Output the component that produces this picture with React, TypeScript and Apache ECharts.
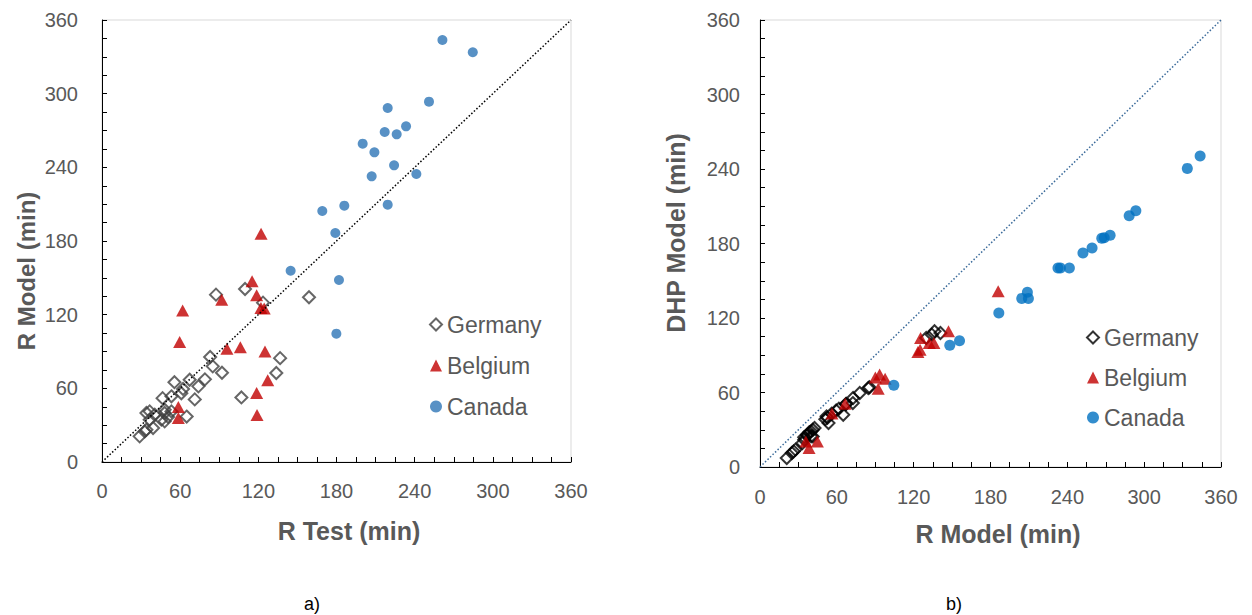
import React, { useEffect, useRef } from "react";
import * as echarts from "echarts";

// ---- Data (minutes) ----
const axisTicks = [0, 60, 120, 180, 240, 300, 360];

const germanyTest = [87.5, 109.8, 123.6, 158.9, 136.7, 83.0, 85.0, 92.1, 133.8, 107.0, 79.0, 74.0, 67.3, 55.6, 62.2, 71.2, 60.9, 53.3, 46.5, 65.0, 53.3, 48.1, 48.1, 50.7, 36.6, 34.1, 40.5, 45.6, 36.6, 48.1, 39.2, 34.1, 28.9, 32.8];
const germanyModel = [136.3, 140.9, 129.8, 134.2, 84.6, 85.5, 77.9, 72.7, 72.5, 52.6, 67.3, 61.6, 67.0, 65.0, 59.5, 51.0, 56.0, 53.5, 52.0, 37.0, 41.2, 42.6, 39.9, 36.7, 41.2, 39.9, 38.5, 34.5, 34.5, 33.1, 27.7, 26.3, 20.9, 24.9];
const germanyDHP = [109.3, 107.9, 103.9, 106.6, 63.6, 64.2, 59.6, 55.6, 51.5, 39.5, 51.0, 47.0, 50.5, 42.1, 45.5, 38.5, 43.0, 35.4, 40.8, 26.0, 30.0, 31.4, 28.7, 25.5, 24.6, 24.7, 28.0, 22.0, 24.0, 19.3, 14.0, 12.6, 7.2, 11.3];

const belgiumTest = [122.1, 115.2, 118.7, 91.9, 122.0, 124.5, 61.9, 59.6, 106.2, 95.9, 125.1, 127.2, 118.7, 58.6, 119.0, 58.6];
const belgiumModel = [186.0, 147.2, 135.8, 132.2, 125.4, 125.0, 123.3, 97.7, 93.4, 92.3, 90.1, 66.5, 56.2, 44.8, 38.3, 35.8];
const belgiumDHP = [141.5, 109.3, 99.9, 99.9, 103.9, 94.5, 92.6, 71.1, 74.4, 63.1, 72.0, 51.0, 43.0, 20.6, 15.3, 20.6];

const canadaTest = [261.3, 284.6, 251.0, 219.3, 233.4, 217.0, 226.2, 200.1, 209.1, 224.2, 241.3, 207.0, 219.3, 186.0, 169.1, 179.1, 144.8, 181.9, 179.9];
const canadaModel = [343.7, 333.7, 293.5, 288.3, 273.4, 268.8, 266.9, 259.3, 252.2, 241.6, 234.6, 232.7, 209.6, 208.8, 204.4, 186.5, 155.8, 148.2, 104.5];
const canadaDHP = [250.5, 240.5, 206.4, 202.4, 186.6, 184.7, 184.2, 176.4, 172.3, 160.3, 160.3, 160.3, 135.8, 140.7, 135.8, 124.0, 101.7, 98.0, 65.8];

const diagonal = [
  [0, 0],
  [360, 360],
];

const FONT = "'Liberation Sans', Arial, sans-serif";
const GRAY = "#595959";

function pairs(xs: number[], ys: number[]) {
  return xs.map((x, i) => [x, ys[i]]);
}

function makeAxis(gridIndex: number, margin: number) {
  return {
    type: "value",
    gridIndex,
    min: axisTicks[0],
    max: axisTicks[axisTicks.length - 1],
    interval: 60,
    axisLine: { show: true, lineStyle: { color: "#000", width: 1 } },
    axisTick: { show: true, inside: true, length: 5, lineStyle: { color: "#000", width: 1 } },
    minorTick: { show: true, splitNumber: 4, length: 5, lineStyle: { color: "#000", width: 1 } },
    splitLine: { show: false },
    axisLabel: { fontSize: 20, color: GRAY, fontFamily: FONT, margin, showMaxLabel: true, showMinLabel: true },
  };
}

function legendFor(left: number, top: number, itemGap: number, diamondColor: string, circleColor: string) {
  return {
    orient: "vertical",
    left,
    top,
    padding: 0,
    itemGap,
    itemWidth: 12,
    itemHeight: 12,
    selectedMode: false,
    textStyle: { fontSize: 23, color: GRAY, fontFamily: FONT, lineHeight: 23 },
    data: [
      { name: "Germany", icon: "diamond", itemStyle: { color: "rgba(255,255,255,0)", borderColor: diamondColor, borderWidth: 2 } },
      { name: "Belgium", icon: "triangle", itemStyle: { color: "#c00000", borderWidth: 0 } },
      { name: "Canada", icon: "circle", itemStyle: { color: circleColor, borderWidth: 0 } },
    ],
  };
}

export default function App() {
  const ref = useRef<HTMLDivElement>(null);

  useEffect(() => {
    document.body.style.margin = "0";
    if (!ref.current) return;
    const chart = echarts.init(ref.current, undefined, { renderer: "svg" });

    const option = {
      animation: false,
      backgroundColor: "#fff",
      grid: [
        { left: 102, top: 20, width: 469, height: 442, show: true, borderColor: "#d9d9d9", borderWidth: 1 },
        { left: 760, top: 20, width: 461, height: 447, show: true, borderColor: "#d9d9d9", borderWidth: 1 },
      ],
      xAxis: [makeAxis(0, 19), makeAxis(1, 20)],
      yAxis: [makeAxis(0, 24), makeAxis(1, 20)],
      legend: [legendFor(429, 313, 18, "#404040", "#2e75b6"), legendFor(1086, 326, 17, "#000", "#0070c0")],
      series: [
        {
          type: "line",
          xAxisIndex: 0,
          yAxisIndex: 0,
          data: diagonal,
          symbol: "none",
          silent: true,
          lineStyle: { color: "#000", width: 1.5, type: [1.5, 2] },
        },
        {
          name: "Germany",
          type: "scatter",
          xAxisIndex: 0,
          yAxisIndex: 0,
          symbol: "diamond",
          symbolSize: 12,
          data: pairs(germanyTest, germanyModel),
          itemStyle: { color: "rgba(255,255,255,0)", borderColor: "#404040", borderWidth: 2 },
        },
        {
          name: "Belgium",
          type: "scatter",
          xAxisIndex: 0,
          yAxisIndex: 0,
          symbol: "triangle",
          symbolSize: [13, 12],
          data: pairs(belgiumTest, belgiumModel),
          itemStyle: { color: "#c00000" },
        },
        {
          name: "Canada",
          type: "scatter",
          xAxisIndex: 0,
          yAxisIndex: 0,
          symbol: "circle",
          symbolSize: 10,
          data: pairs(canadaTest, canadaModel),
          itemStyle: { color: "#2e75b6" },
        },
        {
          type: "line",
          xAxisIndex: 1,
          yAxisIndex: 1,
          data: diagonal,
          symbol: "none",
          silent: true,
          lineStyle: { color: "#3a6a9a", width: 1.5, type: [1.5, 2] },
        },
        {
          name: "Germany",
          type: "scatter",
          xAxisIndex: 1,
          yAxisIndex: 1,
          symbol: "diamond",
          symbolSize: 12,
          data: pairs(germanyModel, germanyDHP),
          itemStyle: { color: "rgba(255,255,255,0)", borderColor: "#000", borderWidth: 2 },
        },
        {
          name: "Belgium",
          type: "scatter",
          xAxisIndex: 1,
          yAxisIndex: 1,
          symbol: "triangle",
          symbolSize: [13, 12],
          data: pairs(belgiumModel, belgiumDHP),
          itemStyle: { color: "#c00000" },
        },
        {
          name: "Canada",
          type: "scatter",
          xAxisIndex: 1,
          yAxisIndex: 1,
          symbol: "circle",
          symbolSize: 11,
          data: pairs(canadaModel, canadaDHP),
          itemStyle: { color: "#0070c0" },
        },
      ],
      graphic: [
        {
          type: "text",
          x: 349,
          y: 531,
          style: { text: "R Test (min)", font: `bold 25px ${FONT}`, fill: GRAY, textAlign: "center", textVerticalAlign: "middle" },
        },
        {
          type: "text",
          x: 26,
          y: 271,
          rotation: Math.PI / 2,
          style: { text: "R Model (min)", font: `bold 24px ${FONT}`, fill: GRAY, textAlign: "center", textVerticalAlign: "middle" },
        },
        {
          type: "text",
          x: 998,
          y: 534,
          style: { text: "R Model (min)", font: `bold 25px ${FONT}`, fill: GRAY, textAlign: "center", textVerticalAlign: "middle" },
        },
        {
          type: "text",
          x: 676,
          y: 233,
          rotation: Math.PI / 2,
          style: { text: "DHP Model (min)", font: `bold 25px ${FONT}`, fill: GRAY, textAlign: "center", textVerticalAlign: "middle" },
        },
        {
          type: "text",
          x: 312,
          y: 604,
          style: { text: "a)", font: `18px ${FONT}`, fill: "#000", textAlign: "center", textVerticalAlign: "middle" },
        },
        {
          type: "text",
          x: 954,
          y: 604,
          style: { text: "b)", font: `18px ${FONT}`, fill: "#000", textAlign: "center", textVerticalAlign: "middle" },
        },
      ],
    };

    chart.setOption(option as any);
    return () => chart.dispose();
  }, []);

  return <div ref={ref} style={{ width: 1252, height: 615 }} />;
}
